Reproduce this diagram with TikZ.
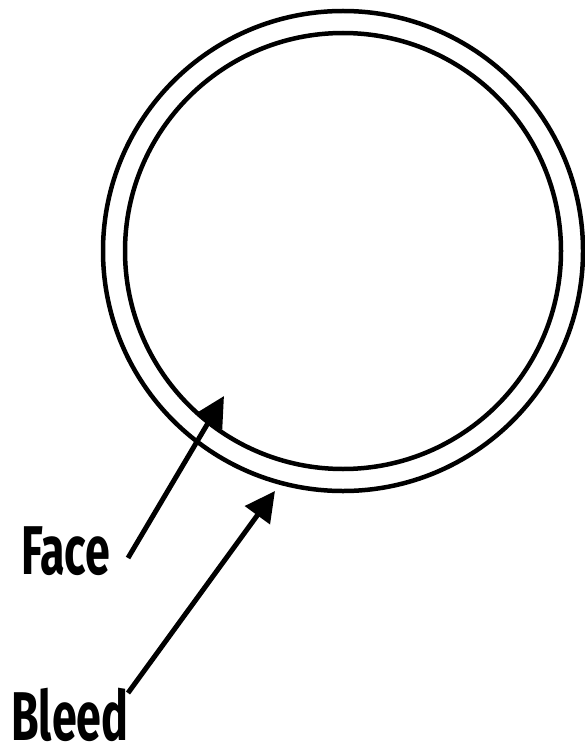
\documentclass[tikz,border=0pt]{standalone}
\usepackage{fontspec}
\setmainfont{Fira Sans}
\newfontfamily\labelfont[FakeStretch=0.65]{Fira Sans}
\usetikzlibrary{arrows.meta}

\begin{document}
\begin{tikzpicture}[x=1pt, y=-1pt]
    % Styles
    \tikzset{ring/.style={circle,draw,line width=4.5pt,inner sep=0pt},
             tag/.style={font=\labelfont\bfseries\fontsize{69}{69}\selectfont,inner sep=0pt,anchor=base west},
             pointer/.style={line width=5pt,-{Triangle[length=30pt,width=30pt]}}}

    % Canvas
    \useasboundingbox (0,0) rectangle (585,746);

    % Bleed and face circles
    \node[ring, minimum size=480pt] (bleed) at (343,251) {};
    \node[ring, minimum size=436pt] (face) at (343,251) {};

    % Labels
    \node[tag] (facelabel) at (21,574) {Face};
    \node[tag] (bleedlabel) at (11,740) {Bleed};

    % Arrow ends
    \coordinate (facetail) at (128,558);
    \coordinate (facetip) at (224,396);
    \coordinate (bleedtail) at (128,693);
    \coordinate (bleedtip) at (275,491);

    % Arrows
    \draw[pointer] (facetail) -- (facetip);
    \draw[pointer] (bleedtail) -- (bleedtip);
\end{tikzpicture}
\end{document}
